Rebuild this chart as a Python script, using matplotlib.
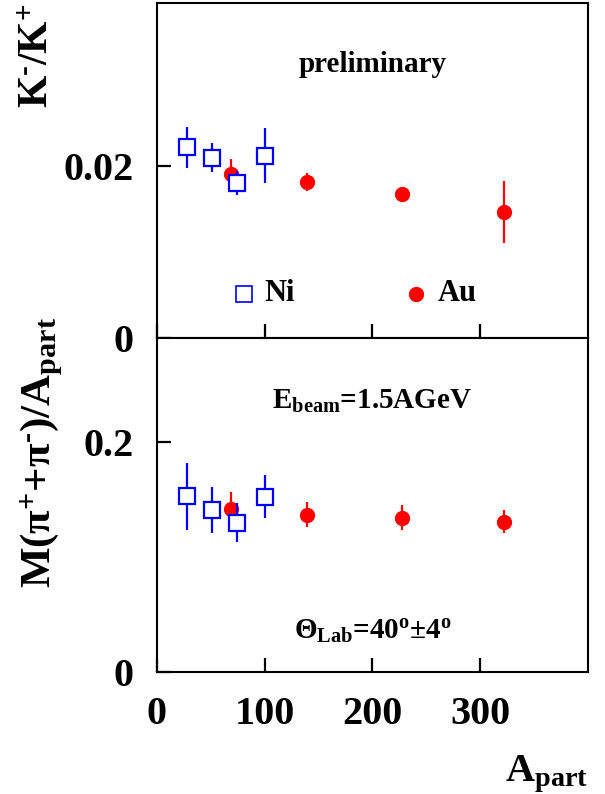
import numpy as np
import matplotlib
matplotlib.use("Agg")
import matplotlib.pyplot as plt

plt.rcParams['font.family'] = ['Liberation Serif', 'DejaVu Serif']
plt.rcParams['font.weight'] = 'bold'
plt.rcParams['mathtext.fontset'] = 'custom'
plt.rcParams['mathtext.rm'] = 'Liberation Serif:bold'
plt.rcParams['mathtext.it'] = 'Liberation Serif:bold'
plt.rcParams['mathtext.bf'] = 'Liberation Serif:bold'

# Ni data
ni_apart = [27.5, 51.5, 74.7, 100.6]
ni_kk = [0.0222, 0.0210, 0.0181, 0.0212]
ni_kk_err = [0.0024, 0.0017, 0.0014, 0.0032]
ni_pi = [0.1526, 0.1408, 0.1295, 0.1523]
ni_pi_err = [0.029, 0.020, 0.017, 0.019]

# Au data
au_apart = [69.0, 139.5, 227.0, 322.0]
au_kk = [0.0191, 0.01817, 0.01674, 0.01469]
au_kk_err = [0.0017, 0.0010, 0.0005, 0.0036]
au_pi = [0.1416, 0.1367, 0.1341, 0.1306]
au_pi_err = [0.0145, 0.011, 0.0105, 0.010]

blue = '#0000ff'
red = '#ff0000'

fig = plt.figure(figsize=(6.05, 7.94), dpi=100)
ax1 = fig.add_axes([0.2595, 0.5743, 0.7124, 0.4219])
ax2 = fig.add_axes([0.2595, 0.1537, 0.7124, 0.4206])

for ax, au_y, au_e, ni_y, ni_e in [(ax1, au_kk, au_kk_err, ni_kk, ni_kk_err),
                                   (ax2, au_pi, au_pi_err, ni_pi, ni_pi_err)]:
    ax.errorbar(au_apart, au_y, yerr=au_e, fmt='o', color=red, ms=10,
                elinewidth=1.6, capsize=0, zorder=3)
    ax.errorbar(ni_apart, ni_y, yerr=ni_e, fmt='s', color=blue, mfc='white',
                mec=blue, mew=1.6, ms=11, elinewidth=1.6, capsize=0, zorder=4)
    ax.set_xlim(0, 400)
    ax.set_xticks([0, 100, 200, 300])
    ax.tick_params(direction='in', length=10, width=1.6, top=False, right=False,
                   labelsize=29, pad=17)
    for s in ax.spines.values():
        s.set_linewidth(1.5)

ax1.set_ylim(0, 0.039)
ax1.set_yticks([0, 0.02])
ax1.set_yticklabels(['0', '0.02'])
ax1.set_xticklabels([])

ax2.set_ylim(0, 0.29)
ax2.set_yticks([0, 0.2])
ax2.set_yticklabels(['0', '0.2'])
ax2.set_xticklabels(['0', '100', '200', '300'])

for lab in ax1.get_yticklabels() + ax2.get_yticklabels() + ax2.get_xticklabels():
    lab.set_fontweight('bold')

# annotations
ax1.text(0.5, 0.815, 'preliminary', transform=ax1.transAxes, ha='center',
         va='center', fontsize=21, fontweight='bold')
ax1.plot([0.203], [0.132], 's', transform=ax1.transAxes, ms=11, mfc='white',
         mec=blue, mew=1.2, clip_on=False)
ax1.text(0.25, 0.132, 'Ni', transform=ax1.transAxes, ha='left', va='center',
         fontsize=22, fontweight='bold')
ax1.plot([0.602], [0.132], 'o', transform=ax1.transAxes, ms=10, color=red,
         clip_on=False)
ax1.text(0.652, 0.132, 'Au', transform=ax1.transAxes, ha='left', va='center',
         fontsize=22, fontweight='bold')

ax2.text(0.5, 0.81, r'E$_{\mathrm{beam}}$=1.5AGeV', transform=ax2.transAxes,
         ha='center', va='center', fontsize=21, fontweight='bold')
ax2.text(0.5, 0.12, r'Θ$_{\mathrm{Lab}}$=40$^{\mathrm{o}}$±4$^{\mathrm{o}}$',
         transform=ax2.transAxes, ha='center', va='center', fontsize=21,
         fontweight='bold')

# axis labels
fig.text(0.063, 0.93, 'K$^{\u2010}$/K$^{+}$', rotation=90, ha='center',
         va='center', fontsize=30, fontweight='bold')
fig.text(0.068, 0.43, 'M(π$^{+}$+π$^{\u2010}$)/A$_{\\mathrm{part}}$', rotation=90,
         ha='center', va='center', fontsize=31, fontweight='bold')
fig.text(0.972, 0.025, 'A$_{\\mathrm{part}}$', ha='right', va='center',
         fontsize=29, fontweight='bold')

fig.savefig('out.png', dpi=100)
